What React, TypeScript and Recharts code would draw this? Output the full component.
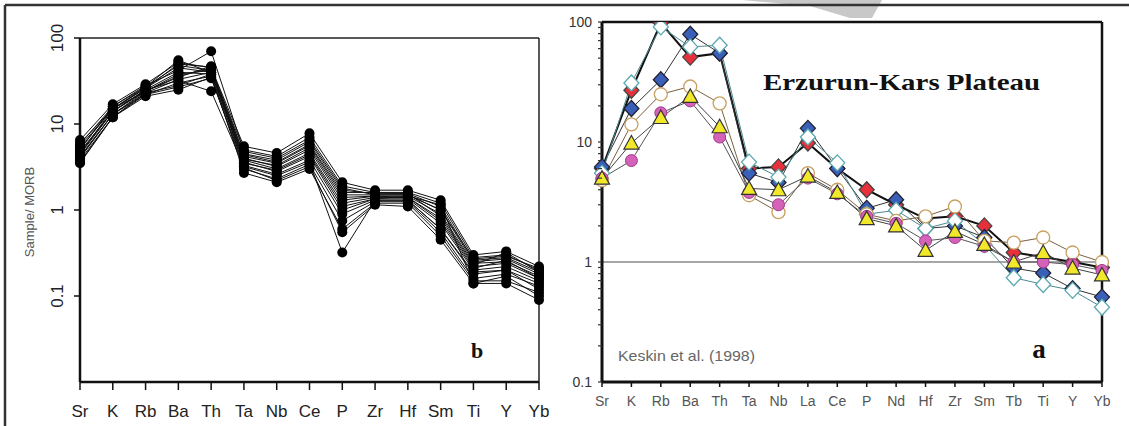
import { LineChart, Line, XAxis, YAxis, ReferenceLine } from 'recharts'

// left panel (b): MORB-normalised spider diagram, many samples
const leftElements = ['Sr', 'K', 'Rb', 'Ba', 'Th', 'Ta', 'Nb', 'Ce', 'P', 'Zr', 'Hf', 'Sm', 'Ti', 'Y', 'Yb']
const leftTicks = [0.1, 1, 10, 100]

const b01 = [6.5, 17, 29, 52, 45, 5.5, 4.6, 7.8, 2.1, 1.7, 1.7, 1.3, 0.3, 0.33, 0.22]
const b02 = [5.8, 16, 27, 48, 42, 5.0, 4.2, 7.0, 1.9, 1.6, 1.6, 1.2, 0.28, 0.3, 0.2]
const b03 = [5.2, 15, 26, 45, 40, 4.5, 3.8, 6.2, 1.7, 1.55, 1.55, 1.1, 0.26, 0.28, 0.19]
const b04 = [4.8, 14, 25, 40, 38, 4.2, 3.5, 5.6, 1.5, 1.5, 1.5, 1.0, 0.25, 0.27, 0.18]
const b05 = [4.5, 15, 24, 36, 44, 4.0, 3.2, 5.0, 1.3, 1.45, 1.45, 0.9, 0.24, 0.25, 0.17]
const b06 = [4.2, 13, 23, 33, 40, 3.8, 3.0, 4.6, 1.2, 1.4, 1.4, 0.8, 0.22, 0.24, 0.16]
const b07 = [4.0, 13, 22, 30, 36, 3.6, 2.8, 4.2, 1.0, 1.35, 1.35, 0.7, 0.2, 0.22, 0.15]
const b08 = [3.8, 12, 22, 27, 34, 3.3, 2.6, 3.8, 0.9, 1.3, 1.3, 0.6, 0.18, 0.2, 0.14]
const b09 = [3.6, 12, 21, 25, 35, 3.0, 2.3, 3.4, 0.75, 1.25, 1.25, 0.55, 0.16, 0.18, 0.13]
const b10 = [3.5, 12, 23, 28, 38, 2.7, 2.1, 3.0, 0.6, 1.2, 1.2, 0.5, 0.15, 0.15, 0.11]
const b11 = [4.4, 14, 25, 32, 24, 3.2, 2.5, 3.6, 0.32, 1.3, 1.3, 0.6, 0.19, 0.2, 0.12]
const b12 = [5.0, 16, 28, 42, 70, 4.8, 4.0, 6.5, 1.8, 1.5, 1.5, 1.0, 0.27, 0.29, 0.21]
const b13 = [6.0, 15, 26, 50, 46, 4.4, 3.6, 5.8, 1.6, 1.6, 1.55, 0.85, 0.23, 0.32, 0.19]
const b14 = [4.6, 14, 24, 38, 42, 3.9, 3.3, 5.3, 1.4, 1.45, 1.4, 0.75, 0.21, 0.26, 0.16]
const b15 = [5.5, 15, 27, 55, 40, 3.5, 2.9, 4.4, 1.1, 1.35, 1.45, 1.15, 0.14, 0.17, 0.1]
const b16 = [4.1, 13, 24, 35, 47, 3.1, 2.2, 3.2, 0.55, 1.15, 1.1, 0.45, 0.14, 0.14, 0.09]
const leftSamples = [b01, b02, b03, b04, b05, b06, b07, b08, b09, b10, b11, b12, b13, b14, b15, b16]

// right panel (a): Erzurum-Kars plateau
const rightElements = ['Sr', 'K', 'Rb', 'Ba', 'Th', 'Ta', 'Nb', 'La', 'Ce', 'P', 'Nd', 'Hf', 'Zr', 'Sm', 'Tb', 'Ti', 'Y', 'Yb']
const redDiamond = [6.0, 27, 98, 51, 55, 6.0, 6.2, 9.8, 6.0, 4.0, 3.0, 2.3, 2.4, 2.0, 1.2, 1.1, 1.0, 0.9]
const blueDiamond = [6.2, 19, 33, 79, 55, 5.5, 4.6, 13, 6.0, 2.8, 3.3, 1.9, 2.0, 1.6, 0.89, 0.81, 0.6, 0.51]
const whiteDiamond = [5.5, 31, 91, 62, 64, 6.8, 5.1, 11, 6.7, 2.5, 2.7, 1.9, 2.2, 1.4, 0.74, 0.65, 0.58, 0.42]
const whiteCircle = [4.8, 14, 25, 29, 21, 3.6, 2.6, 5.5, 4.0, 2.5, 2.2, 2.4, 2.9, 1.5, 1.45, 1.6, 1.2, 1.0]
const pinkCircle = [5.0, 7.0, 17.5, 22, 11, 3.8, 3.0, 5.0, 3.7, 2.4, 2.1, 1.5, 1.6, 1.35, 1.0, 1.0, 0.95, 0.85]
const yellowTriangle = [5.0, 9.8, 16, 24, 13.4, 4.1, 4.0, 5.2, 3.8, 2.3, 2.0, 1.25, 1.8, 1.4, 1.0, 1.2, 0.89, 0.78]
const rightTicks = [
  0.1, 0.2, 0.3, 0.4, 0.5, 0.6, 0.7, 0.8, 0.9,
  1, 2, 3, 4, 5, 6, 7, 8, 9,
  10, 20, 30, 40, 50, 60, 70, 80, 90, 100,
]

const leftData = leftElements.map((el, i) => {
  const row: Record<string, string | number> = { el }
  leftSamples.forEach((s, j) => {
    row['s' + j] = s[i]
  })
  return row
})

const rightData = rightElements.map((el, i) => ({
  el,
  red: redDiamond[i],
  blue: blueDiamond[i],
  wdia: whiteDiamond[i],
  wcirc: whiteCircle[i],
  pink: pinkCircle[i],
  yellow: yellowTriangle[i],
}))

const diamond = (fill: string, stroke: string) => (props: any) => {
  const { cx, cy, index } = props
  if (cx == null || cy == null) return <g key={index} />
  return (
    <path
      key={index}
      d={`M${cx},${cy - 8}L${cx + 7.5},${cy}L${cx},${cy + 8}L${cx - 7.5},${cy}Z`}
      fill={fill}
      stroke={stroke}
      strokeWidth={1.3}
    />
  )
}

const triangle = (fill: string, stroke: string) => (props: any) => {
  const { cx, cy, index } = props
  if (cx == null || cy == null) return <g key={index} />
  return (
    <path
      key={index}
      d={`M${cx},${cy - 7.5}L${cx + 7.5},${cy + 6}L${cx - 7.5},${cy + 6}Z`}
      fill={fill}
      stroke={stroke}
      strokeWidth={1.2}
    />
  )
}

const LeftYTick = ({ x, y, payload }: any) => (
  <text x={x - 9} y={y} transform={`rotate(-90, ${x - 9}, ${y})`} textAnchor="middle" fontSize={17} fill="#222">
    {payload.value}
  </text>
)

const LeftXTick = ({ x, y, payload }: any) => (
  <text x={x} y={y} dy={25} textAnchor="middle" fontSize={17} fill="#222">
    {payload.value}
  </text>
)

const RightYTick = ({ x, y, payload }: any) => {
  const v = payload.value
  const lg = Math.log10(v)
  const major = Math.abs(lg - Math.round(lg)) < 1e-6
  return (
    <g>
      <line x1={x + 2} y1={y} x2={x + 6} y2={y} stroke="#333" strokeWidth={1.2} />
      {major ? (
        <text x={x - 4} y={y} dy={5} textAnchor="end" fontSize={14} fill="#333">
          {v}
        </text>
      ) : null}
    </g>
  )
}

const RightXTick = ({ x, y, payload }: any) => (
  <text x={x} y={y} dy={17} textAnchor="middle" fontSize={14} fill="#555">
    {payload.value}
  </text>
)

const rightStyles = [
  { key: 'red', line: '#111', width: 2, dot: diamond('#e8303a', '#444') },
  { key: 'blue', line: '#333', width: 1, dot: diamond('#3a5fb8', '#223') },
  { key: 'wdia', line: '#4d8a90', width: 1, dot: diamond('#ffffff', '#5aa9b0') },
  { key: 'wcirc', line: '#7a6040', width: 1, dot: { r: 6.5, fill: '#ffffff', stroke: '#c9a060', strokeWidth: 1.3 } },
  { key: 'pink', line: '#555', width: 1, dot: { r: 6, fill: '#d462b8', stroke: '#a03a8f', strokeWidth: 1 } },
  { key: 'yellow', line: '#444', width: 1, dot: triangle('#f2e82a', '#333') },
]

export default function App() {
  return (
    <div style={{ position: 'absolute', left: 0, top: 0, width: 1129, height: 426, background: '#fff', fontFamily: '"Liberation Sans", Arial, sans-serif' }}>
      <svg width={1129} height={426} style={{ position: 'absolute', left: 0, top: 0 }}>
        <polygon points="742,0 882,0 872,18 850,18 810,6" fill="#c8c8c8" />
      </svg>

      <div style={{ position: 'absolute', left: 0, top: 0 }}>
        <LineChart width={565} height={426} data={leftData} margin={{ top: 38, right: 26, bottom: 14, left: 0 }}>
          <XAxis
            dataKey="el"
            height={30}
            interval={0}
            tick={<LeftXTick />}
            tickSize={8}
            axisLine={{ stroke: '#111', strokeWidth: 2.5 }}
            tickLine={{ stroke: '#111', strokeWidth: 1.5 }}
          />
          <YAxis
            type="number"
            scale="log"
            domain={[0.01, 100]}
            allowDataOverflow
            ticks={leftTicks}
            interval={0}
            width={80}
            tickSize={6}
            tick={<LeftYTick />}
            axisLine={{ stroke: '#111', strokeWidth: 2.5 }}
            tickLine={{ stroke: '#111', strokeWidth: 1.5 }}
          />
          <ReferenceLine y={100} stroke="#222" strokeWidth={1.5} />
          <ReferenceLine x="Yb" stroke="#222" strokeWidth={1.5} />
          {leftSamples.map((_, j) => (
            <Line
              key={j}
              dataKey={'s' + j}
              stroke="#111"
              strokeWidth={1}
              dot={{ r: 5, fill: '#000', stroke: '#000', strokeWidth: 0 }}
              isAnimationActive={false}
            />
          ))}
        </LineChart>
      </div>

      <div style={{ position: 'absolute', left: 565, top: 0 }}>
        <LineChart width={564} height={426} data={rightData} margin={{ top: 22, right: 27, bottom: 14, left: 7 }}>
          <XAxis
            dataKey="el"
            height={30}
            interval={0}
            tick={<RightXTick />}
            tickSize={5}
            axisLine={{ stroke: '#111', strokeWidth: 3 }}
            tickLine={{ stroke: '#111', strokeWidth: 1.5 }}
          />
          <YAxis
            type="number"
            scale="log"
            domain={[0.1, 100]}
            allowDataOverflow
            ticks={rightTicks}
            interval={0}
            width={30}
            tickSize={4}
            tick={<RightYTick />}
            axisLine={{ stroke: '#111', strokeWidth: 3 }}
            tickLine={false}
          />
          <ReferenceLine y={1} stroke="#888" strokeWidth={1.5} />
          <ReferenceLine y={100} stroke="#111" strokeWidth={2.5} />
          <ReferenceLine x="Yb" stroke="#111" strokeWidth={2.5} />
          {rightStyles.map((s) => (
            <Line
              key={s.key}
              dataKey={s.key}
              stroke={s.line}
              strokeWidth={s.width}
              dot={s.dot as any}
              isAnimationActive={false}
            />
          ))}
        </LineChart>
      </div>

      <svg width={1129} height={426} style={{ position: 'absolute', left: 0, top: 0, pointerEvents: 'none' }}>
        <line x1={5} y1={5} x2={1129} y2={5} stroke="#333" strokeWidth={2.5} />
        <line x1={5} y1={5} x2={5} y2={426} stroke="#333" strokeWidth={2.5} />
        <text x={34} y={212} transform="rotate(-90, 34, 212)" textAnchor="middle" fontSize={13} fill="#555">
          Sample/ MORB
        </text>
        <text x={477} y={358} textAnchor="middle" fontSize={22} fontWeight="bold" fontFamily='"Liberation Serif", "Times New Roman", serif' fill="#111">
          b
        </text>
        <text x={763} y={90} textLength={277} lengthAdjust="spacingAndGlyphs" fontSize={24} fontWeight="bold" fontFamily='"Liberation Serif", "Times New Roman", serif' fill="#111">
          Erzurun-Kars Plateau
        </text>
        <text x={618} y={361} textLength={137} lengthAdjust="spacingAndGlyphs" fontSize={15} fill="#666">
          Keskin et al. (1998)
        </text>
        <text x={1039} y={358} textAnchor="middle" fontSize={27} fontWeight="bold" fontFamily='"Liberation Serif", "Times New Roman", serif' fill="#111">
          a
        </text>
      </svg>
    </div>
  )
}
